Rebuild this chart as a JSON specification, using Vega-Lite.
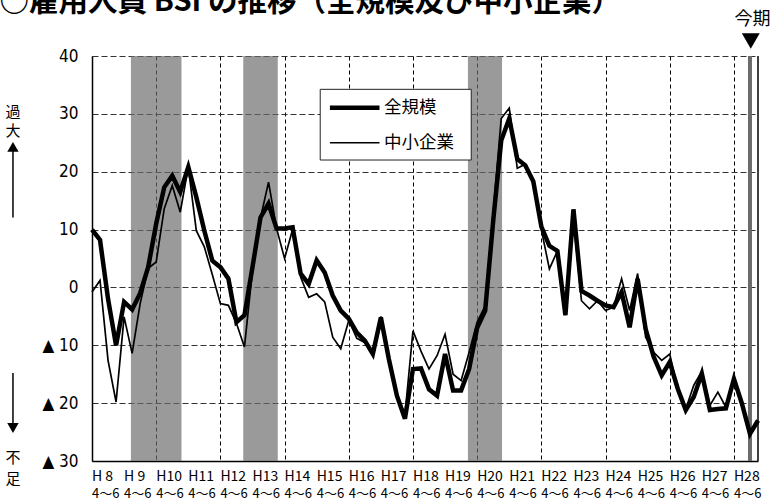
{
 "$schema": "https://vega.github.io/schema/vega-lite/v6.json",
 "width": 666,
 "height": 405,
 "autosize": {"type": "none"},
 "padding": {"left": 92, "top": 56, "right": 15, "bottom": 41},
 "background": "white",
 "config": {
  "view": {"stroke": null},
  "font": "Noto Sans CJK JP",
  "axis": {"labelFlush": false, "labelBound": false, "ticks": false, "title": null, "zindex": 0},
  "axisX": {"grid": true, "gridColor": "black", "gridDash": [4, 3], "gridWidth": 1, "domainColor": "black", "domainWidth": 1.5, "labels": false},
  "axisY": {"grid": true, "gridColor": "#333333", "gridDash": [6, 3], "gridWidth": 1, "domainColor": "black", "domainWidth": 1.5, "labelFont": "Liberation Sans Narrow, DejaVu Sans Condensed, Liberation Sans", "labelFontSize": 17, "labelColor": "black", "labelPadding": 14}
 },
 "datasets": {
  "bsi": [
   {"q": 0, "全規模": 10, "中小企業": -0.8},
   {"q": 1, "全規模": 8.2, "中小企業": 1.2},
   {"q": 2, "全規模": -2, "中小企業": -12.6},
   {"q": 3, "全規模": -10, "中小企業": -19.8},
   {"q": 4, "全規模": -2.5, "中小企業": -5.1},
   {"q": 5, "全規模": -3.8, "中小企業": -11.4},
   {"q": 6, "全規模": -1, "中小企業": -2.8},
   {"q": 7, "全規模": 3.5, "中小企業": 3.3},
   {"q": 8, "全規模": 11, "中小企業": 4.4},
   {"q": 9, "全規模": 17.3, "中小企業": 13.6},
   {"q": 10, "全規模": 19.3, "中小企業": 17.6},
   {"q": 11, "全規模": 16.5, "中小企業": 13},
   {"q": 12, "全規模": 20.8, "中小企業": 20.8},
   {"q": 13, "全規模": 15.6, "中小企業": 9.8},
   {"q": 14, "全規模": 9.8, "中小企業": 7},
   {"q": 15, "全規模": 4.6, "中小企業": 2.2},
   {"q": 16, "全規模": 3.5, "中小企業": -2.8},
   {"q": 17, "全規模": 1.5, "中小企業": -3.1},
   {"q": 18, "全規模": -6, "中小企業": -6.2},
   {"q": 19, "全規模": -4.8, "中小企業": -10.3},
   {"q": 20, "全規模": 3.5, "中小企業": 3},
   {"q": 21, "全規模": 12.1, "中小企業": 12},
   {"q": 22, "全規模": 14.5, "中小企業": 18.2},
   {"q": 23, "全規模": 10.2, "中小企業": 10.2},
   {"q": 24, "全規模": 10.2, "中小企業": 5},
   {"q": 25, "全規模": 10.4, "中小企業": 10},
   {"q": 26, "全規模": 2.4, "中小企業": 1.8},
   {"q": 27, "全規模": 0.6, "中小企業": -1.7},
   {"q": 28, "全規模": 4.7, "中小企業": -1.1},
   {"q": 29, "全規模": 2.6, "中小企業": -2.5},
   {"q": 30, "全規模": -1.4, "中小企業": -8.6},
   {"q": 31, "全規模": -4, "中小企業": -10.6},
   {"q": 32, "全規模": -5.4, "中小企業": -5.7},
   {"q": 33, "全規模": -7.8, "中小企業": -8.8},
   {"q": 34, "全規模": -9.2, "中小企業": -9.5},
   {"q": 35, "全規模": -11.5, "中小企業": -11.5},
   {"q": 36, "全規模": -5.2, "中小企業": -5},
   {"q": 37, "全規模": -12.4, "中小企業": -13},
   {"q": 38, "全規模": -18.7, "中小企業": -18.5},
   {"q": 39, "全規模": -22.7, "中小企業": -22},
   {"q": 40, "全規模": -14.1, "中小企業": -7.5},
   {"q": 41, "全規模": -14, "中小企業": -11},
   {"q": 42, "全規模": -17.6, "中小企業": -14.1},
   {"q": 43, "全規模": -18.7, "中小企業": -11.8},
   {"q": 44, "全規模": -11.5, "中小企業": -8.1},
   {"q": 45, "全規模": -17.8, "中小企業": -15},
   {"q": 46, "全規模": -17.8, "中小企業": -16.1},
   {"q": 47, "全規模": -14.1, "中小企業": -11.2},
   {"q": 48, "全規模": -7, "中小企業": -6},
   {"q": 49, "全規模": -4, "中小企業": -3.2},
   {"q": 50, "全規模": 11.5, "中小企業": 13},
   {"q": 51, "全規模": 25.4, "中小企業": 29.2},
   {"q": 52, "全規模": 29.2, "中小企業": 31},
   {"q": 53, "全規模": 22.2, "中小企業": 20.6},
   {"q": 54, "全規模": 21.1, "中小企業": 21.3},
   {"q": 55, "全規模": 18.3, "中小企業": 18},
   {"q": 56, "全規模": 10.5, "中小企業": 10},
   {"q": 57, "全規模": 7.2, "中小企業": 3.2},
   {"q": 58, "全規模": 6.3, "中小企業": 6.3},
   {"q": 59, "全規模": -4.8, "中小企業": -4.8},
   {"q": 60, "全規模": 13.5, "中小企業": 12},
   {"q": 61, "全規模": -0.6, "中小企業": -2.3},
   {"q": 62, "全規模": -1.4, "中小企業": -3.7},
   {"q": 63, "全規模": -2.3, "中小企業": -2.3},
   {"q": 64, "全規模": -3.1, "中小企業": -4},
   {"q": 65, "全規模": -3.4, "中小企業": -3.4},
   {"q": 66, "全規模": -0.8, "中小企業": 1.5},
   {"q": 67, "全規模": -6.9, "中小企業": -4},
   {"q": 68, "全規模": 1.5, "中小企業": 2.4},
   {"q": 69, "全規模": -7.2, "中小企業": -8.6},
   {"q": 70, "全規模": -12, "中小企業": -11.2},
   {"q": 71, "全規模": -15.2, "中小企業": -12.6},
   {"q": 72, "全規模": -12.9, "中小企業": -11.5},
   {"q": 73, "全規模": -17.5, "中小企業": -17.7},
   {"q": 74, "全規模": -21.2, "中小企業": -21},
   {"q": 75, "全規模": -18.9, "中小企業": -16.9},
   {"q": 76, "全規模": -14.9, "中小企業": -14.5},
   {"q": 77, "全規模": -21.2, "中小企業": -20.4},
   {"q": 78, "全規模": -21, "中小企業": -18.1},
   {"q": 79, "全規模": -20.9, "中小企業": -20.7},
   {"q": 80, "全規模": -15.8, "中小企業": -15.8},
   {"q": 81, "全規模": -20.1, "中小企業": -20},
   {"q": 82, "全規模": -25.3, "中小企業": -25},
   {"q": 83, "全規模": -23, "中小企業": -23}
  ],
  "bands": [
   {"start": 4.85, "end": 11.15},
   {"start": 18.85, "end": 23.15},
   {"start": 46.85, "end": 51.1}
  ],
  "periods": [
   {"q": 0, "year": "H 8", "quarter": "4～6"},
   {"q": 4, "year": "H 9", "quarter": "4～6"},
   {"q": 8, "year": "H10", "quarter": "4～6"},
   {"q": 12, "year": "H11", "quarter": "4～6"},
   {"q": 16, "year": "H12", "quarter": "4～6"},
   {"q": 20, "year": "H13", "quarter": "4～6"},
   {"q": 24, "year": "H14", "quarter": "4～6"},
   {"q": 28, "year": "H15", "quarter": "4～6"},
   {"q": 32, "year": "H16", "quarter": "4～6"},
   {"q": 36, "year": "H17", "quarter": "4～6"},
   {"q": 40, "year": "H18", "quarter": "4～6"},
   {"q": 44, "year": "H19", "quarter": "4～6"},
   {"q": 48, "year": "H20", "quarter": "4～6"},
   {"q": 52, "year": "H21", "quarter": "4～6"},
   {"q": 56, "year": "H22", "quarter": "4～6"},
   {"q": 60, "year": "H23", "quarter": "4～6"},
   {"q": 64, "year": "H24", "quarter": "4～6"},
   {"q": 68, "year": "H25", "quarter": "4～6"},
   {"q": 72, "year": "H26", "quarter": "4～6"},
   {"q": 76, "year": "H27", "quarter": "4～6"},
   {"q": 80, "year": "H28", "quarter": "4～6"}
  ],
  "one": [{}]
 },
 "layer": [
  {
   "data": {"name": "bands"},
   "mark": {"type": "rect", "color": "#6a6a6a", "opacity": 0.68},
   "encoding": {
    "x": {"field": "start", "type": "quantitative", "title": null, "scale": {"domain": [0, 83], "nice": false, "zero": false},
     "axis": {"values": [0, 4, 8, 12, 16, 20, 24, 28, 32, 36, 40, 44, 48, 52, 56, 60, 64, 68, 72, 76, 80], "labels": false}},
    "x2": {"field": "end"},
    "y": {"datum": -30, "type": "quantitative", "title": null, "scale": {"domain": [-30, 40], "nice": false},
     "axis": {"values": [-30, -20, -10, 0, 10, 20, 30, 40], "labelExpr": "datum.value < 0 ? '▲ ' + (-datum.value) : '' + datum.value"}},
    "y2": {"datum": 40}
   }
  },
  {
   "data": {"name": "one"},
   "mark": {"type": "rule", "color": "#6b6b6b", "strokeWidth": 4},
   "encoding": {
    "x": {"datum": 82, "type": "quantitative"},
    "y": {"datum": -30, "type": "quantitative"},
    "y2": {"datum": 40}
   }
  },
  {
   "data": {"name": "bsi"},
   "transform": [{"fold": ["全規模", "中小企業"], "as": ["系列", "BSI"]}],
   "mark": {"type": "line", "color": "black", "strokeJoin": "miter"},
   "encoding": {
    "x": {"field": "q", "type": "quantitative", "title": null},
    "y": {"field": "BSI", "type": "quantitative", "title": null},
    "strokeWidth": {"field": "系列", "type": "nominal", "scale": {"domain": ["全規模", "中小企業"], "range": [4.5, 1.7]}, "legend": null}
   }
  },
  {
   "data": {"name": "one"},
   "mark": {"type": "rule", "color": "black", "strokeWidth": 1.5},
   "encoding": {
    "x": {"datum": 83, "type": "quantitative"},
    "y": {"datum": -30, "type": "quantitative"},
    "y2": {"datum": 40}
   }
  },
  {
   "data": {"name": "periods"},
   "mark": {"type": "text", "font": "Noto Sans CJK JP", "fontSize": 14, "color": "black", "baseline": "top", "align": "left", "dy": 9},
   "encoding": {
    "x": {"field": "q", "type": "quantitative", "title": null},
    "y": {"datum": -30, "type": "quantitative"},
    "text": {"field": "year"}
   }
  },
  {
   "data": {"name": "periods"},
   "mark": {"type": "text", "font": "Noto Sans CJK JP", "fontSize": 13, "color": "black", "baseline": "top", "align": "left", "dy": 27},
   "encoding": {
    "x": {"field": "q", "type": "quantitative", "title": null},
    "y": {"datum": -30, "type": "quantitative"},
    "text": {"field": "quarter"}
   }
  },
  {
   "data": {"name": "one"},
   "mark": {"type": "rect", "fill": "white", "stroke": "#222222", "strokeWidth": 1},
   "encoding": {
    "x": {"datum": 28.44, "type": "quantitative"},
    "x2": {"datum": 47.26},
    "y": {"datum": 34.24, "type": "quantitative"},
    "y2": {"datum": 22.02}
   }
  },
  {
   "data": {"name": "one"},
   "mark": {"type": "rule", "color": "black", "strokeWidth": 4.5},
   "encoding": {
    "x": {"datum": 29.65, "type": "quantitative"},
    "x2": {"datum": 35.83},
    "y": {"datum": 31.06, "type": "quantitative"}
   }
  },
  {
   "data": {"name": "one"},
   "mark": {"type": "rule", "color": "black", "strokeWidth": 1.7},
   "encoding": {
    "x": {"datum": 29.65, "type": "quantitative"},
    "x2": {"datum": 35.83},
    "y": {"datum": 25.01, "type": "quantitative"}
   }
  },
  {
   "data": {"name": "one"},
   "mark": {"type": "text", "font": "Noto Sans CJK JP", "fontSize": 17.5, "color": "black", "baseline": "middle", "align": "left"},
   "encoding": {
    "x": {"datum": 36.4, "type": "quantitative"},
    "y": {"datum": 31.06, "type": "quantitative"},
    "text": {"value": "全規模"}
   }
  },
  {
   "data": {"name": "one"},
   "mark": {"type": "text", "font": "Noto Sans CJK JP", "fontSize": 17.5, "color": "black", "baseline": "middle", "align": "left"},
   "encoding": {
    "x": {"datum": 36.4, "type": "quantitative"},
    "y": {"datum": 25.01, "type": "quantitative"},
    "text": {"value": "中小企業"}
   }
  },
  {
   "data": {"name": "one"},
   "mark": {"type": "text", "font": "Noto Sans CJK JP", "fontSize": 15, "lineHeight": 19, "color": "black", "baseline": "middle", "align": "center"},
   "encoding": {
    "x": {"datum": -9.85, "type": "quantitative"},
    "y": {"datum": 30.3, "type": "quantitative"},
    "text": {"value": ["過", "大"]}
   }
  },
  {
   "data": {"name": "one"},
   "mark": {"type": "rule", "color": "black", "strokeWidth": 1.5},
   "encoding": {
    "x": {"datum": -9.85, "type": "quantitative"},
    "y": {"datum": 24.5, "type": "quantitative"},
    "y2": {"datum": 12.1}
   }
  },
  {
   "data": {"name": "one"},
   "mark": {"type": "point", "shape": "triangle-up", "filled": true, "color": "black", "size": 130, "opacity": 1},
   "encoding": {
    "x": {"datum": -9.85, "type": "quantitative"},
    "y": {"datum": 24.3, "type": "quantitative"}
   }
  },
  {
   "data": {"name": "one"},
   "mark": {"type": "rule", "color": "black", "strokeWidth": 1.5},
   "encoding": {
    "x": {"datum": -9.85, "type": "quantitative"},
    "y": {"datum": -14.8, "type": "quantitative"},
    "y2": {"datum": -23.5}
   }
  },
  {
   "data": {"name": "one"},
   "mark": {"type": "point", "shape": "triangle-down", "filled": true, "color": "black", "size": 130, "opacity": 1},
   "encoding": {
    "x": {"datum": -9.85, "type": "quantitative"},
    "y": {"datum": -24.3, "type": "quantitative"}
   }
  },
  {
   "data": {"name": "one"},
   "mark": {"type": "text", "font": "Noto Sans CJK JP", "fontSize": 15, "lineHeight": 21, "color": "black", "baseline": "middle", "align": "center"},
   "encoding": {
    "x": {"datum": -9.85, "type": "quantitative"},
    "y": {"datum": -29.5, "type": "quantitative"},
    "text": {"value": ["不", "足"]}
   }
  },
  {
   "data": {"name": "one"},
   "mark": {"type": "text", "font": "Noto Sans CJK JP", "fontSize": 18, "color": "black", "baseline": "middle", "align": "center"},
   "encoding": {
    "x": {"datum": 82.3, "type": "quantitative"},
    "y": {"datum": 46.2, "type": "quantitative"},
    "text": {"value": "今期"}
   }
  },
  {
   "data": {"name": "one"},
   "mark": {"type": "point", "shape": "triangle-down", "filled": true, "color": "black", "size": 320, "opacity": 1},
   "encoding": {
    "x": {"datum": 82.1, "type": "quantitative"},
    "y": {"datum": 42.6, "type": "quantitative"}
   }
  },
  {
   "data": {"name": "one"},
   "mark": {"type": "text", "font": "Noto Sans CJK JP", "fontSize": 29.5, "fontWeight": "bold", "color": "black", "baseline": "alphabetic", "align": "left"},
   "encoding": {
    "x": {"datum": -11.53, "type": "quantitative"},
    "y": {"datum": 47.85, "type": "quantitative"},
    "text": {"value": "○雇用人員 BSI の推移（全規模及び中小企業）"}
   }
  }
 ]
}
